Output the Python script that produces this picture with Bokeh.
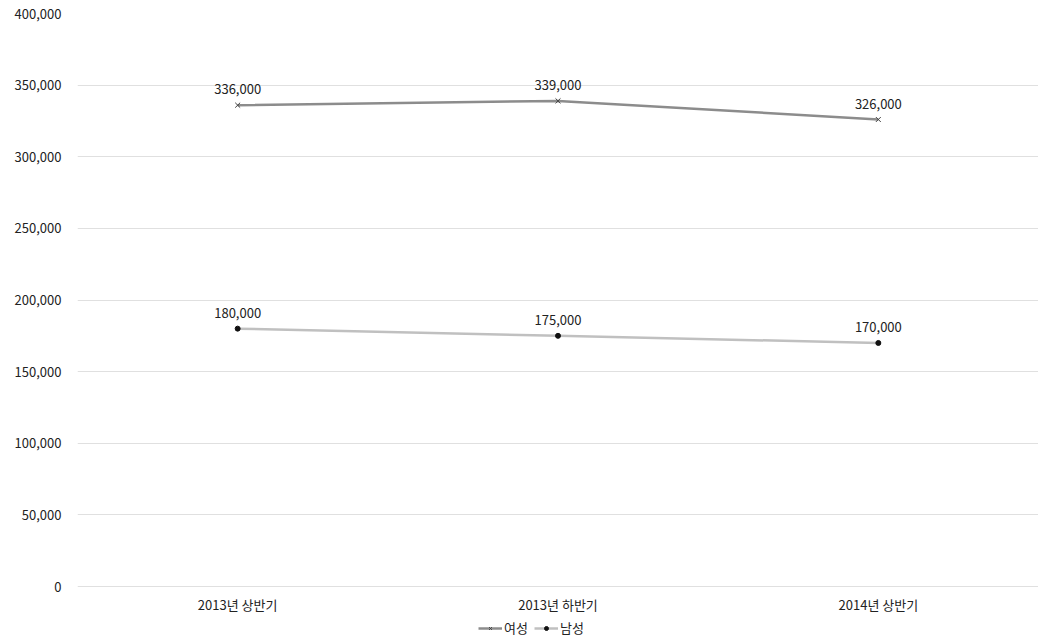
from bokeh.plotting import figure
from bokeh.models import ColumnDataSource, Legend, LegendItem, NumeralTickFormatter, LabelSet, FixedTicker
from bokeh.core.properties import value
from bokeh.embed import file_html
from bokeh.resources import INLINE

categories = ["2013년 상반기", "2013년 하반기", "2014년 상반기"]
female = [336000, 339000, 326000]
male = [180000, 175000, 170000]
female_labels = ["336,000", "339,000", "326,000"]
male_labels = ["180,000", "175,000", "170,000"]

FONT = "Noto Sans CJK KR"

Y_MAX = 400000
PX_PER_UNIT = 573 / Y_MAX          # 573 px between 0 and 400,000
BOTTOM_PAD_PX = 54                 # room below the 0 line for category labels + legend
y_start = -BOTTOM_PAD_PX / PX_PER_UNIT

p = figure(x_range=categories, y_range=(y_start, Y_MAX), frame_width=961, frame_height=573 + BOTTOM_PAD_PX,
           output_backend="svg", toolbar_location=None, x_axis_location=None,
           min_border_left=77, min_border_top=13, min_border_right=0, min_border_bottom=0)
p.outline_line_color = None
p.background_fill_color = "white"
p.border_fill_color = "white"

src_f = ColumnDataSource(dict(x=categories, y=female, t=female_labels))
src_m = ColumnDataSource(dict(x=categories, y=male, t=male_labels))
src_c = ColumnDataSource(dict(x=categories, y=[0] * len(categories), t=categories))

lf = p.line("x", "y", source=src_f, line_color="#8c8c8c", line_width=2.5)
sf = p.scatter("x", "y", source=src_f, marker="x", size=7, line_color="#444444", line_width=1)
lm = p.line("x", "y", source=src_m, line_color="#c0c0c0", line_width=2.5)
sm = p.scatter("x", "y", source=src_m, marker="circle", size=5, fill_color="#111111", line_color="#111111")

for s in (src_f, src_m):
    p.add_layout(LabelSet(x="x", y="y", text="t", source=s, x_offset=0, y_offset=11,
                          text_align="center", text_baseline="bottom",
                          text_font=value(FONT), text_font_size="13px", text_color="#222222"))

# category labels under the 0 line (acts as the x axis)
p.add_layout(LabelSet(x="x", y="y", text="t", source=src_c, x_offset=0, y_offset=-18,
                      text_align="center", text_baseline="middle",
                      text_font=value(FONT), text_font_size="13px", text_color="#222222"))

p.yaxis.ticker = FixedTicker(ticks=list(range(0, Y_MAX + 1, 50000)))
p.yaxis.formatter = NumeralTickFormatter(format="0,0")
p.yaxis.axis_line_color = None
p.yaxis.major_tick_line_color = None
p.yaxis.minor_tick_line_color = None
p.yaxis.major_tick_out = 0
p.yaxis.major_tick_in = 0
p.yaxis.minor_tick_out = 0
p.yaxis.major_label_text_font = FONT
p.yaxis.major_label_text_font_size = "13px"
p.yaxis.major_label_text_color = "#222222"
p.yaxis.major_label_standoff = 16

p.xgrid.grid_line_color = None
p.ygrid.grid_line_color = "#e0e0e0"
p.ygrid.grid_line_width = 1

legend = Legend(items=[LegendItem(label="여성", renderers=[lf, sf]),
                       LegendItem(label="남성", renderers=[lm, sm])],
                orientation="horizontal", location=(401, 3),
                label_text_font=FONT, label_text_font_size="13px",
                label_text_color="#222222", glyph_width=24, glyph_height=10,
                label_height=14, spacing=6, padding=0, margin=0, label_standoff=2,
                border_line_color=None, background_fill_alpha=0)
p.add_layout(legend)

open("out.html", "w").write(file_html(p, INLINE))
